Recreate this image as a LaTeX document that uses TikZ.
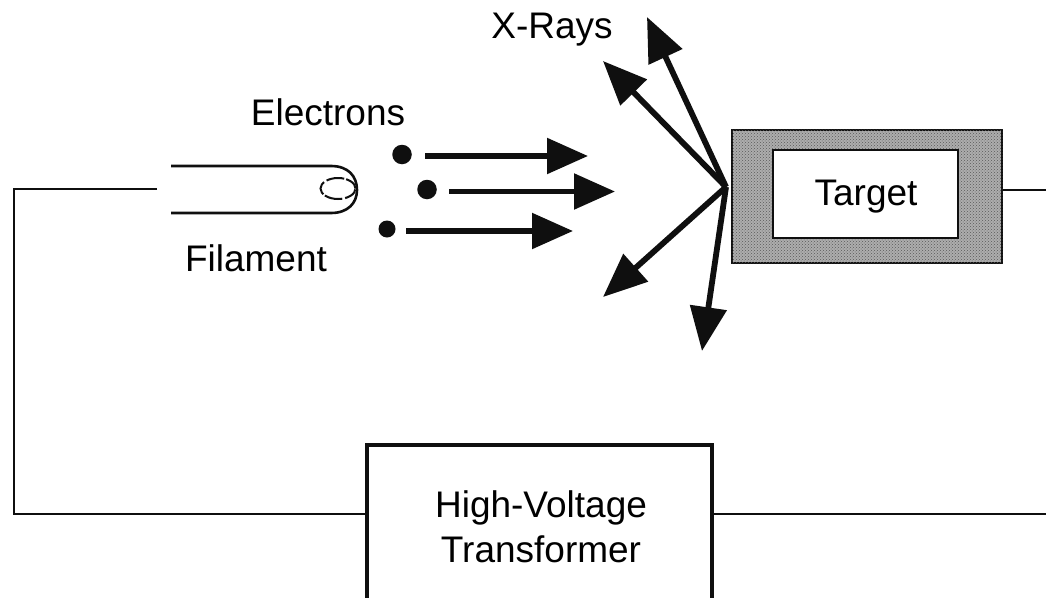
\documentclass[tikz,border=0pt]{standalone}
\usepackage{fontspec}
\setmainfont{Liberation Sans}
\usetikzlibrary{arrows.meta,patterns,calc,shapes.geometric}
\definecolor{ink}{gray}{0.06}
\tikzset{
  lbl/.style={font=\fontsize{37}{45}\selectfont, text=black, inner sep=0pt, align=center},
  wire/.style={draw=ink, line width=2.2pt},
  tube/.style={draw=ink, line width=2.6pt},
  electron/.style={circle, fill=ink, inner sep=0pt},
  beam/.style={draw=ink, line width=5.4pt, -{Triangle[length=41pt,width=35pt]}},
  ray/.style={draw=ink, line width=5.8pt, -{Triangle[length=44pt,width=36pt]}},
}
\begin{document}
\begin{tikzpicture}[x=1pt,y=-1pt]
\useasboundingbox (0,0) rectangle (1046,597);
\clip (0,0) rectangle (1046,597);
\fill[white] (0,0) rectangle (1046,597);
% target
\node[minimum width=270pt, minimum height=133pt, inner sep=0pt, draw=ink, line width=1.5pt, fill=black!32] (targetouter) at (867,196.5) {};
\fill[pattern=crosshatch dots, pattern color=black!65] (targetouter.south west) rectangle (targetouter.north east);
\node[minimum width=185pt, minimum height=88pt, inner sep=0pt, draw=ink, line width=1.8pt, fill=white] (targetinner) at (865.5,194) {};
\node[lbl] (target) at (866,197) {Target};
% transformer
\node[minimum width=345pt, minimum height=155pt, inner sep=0pt, draw=ink, line width=4.5pt, fill=white] (xfmr) at (539.5,522.5) {};
\node[lbl] (xfmrlabel) at (541,527) {High-Voltage\\Transformer};
% filament
\coordinate (tubeTL) at (171,166);
\coordinate (tubeBL) at (171,213);
\draw[tube] (tubeTL) -- (331,166) .. controls (348,166) and (357,176) .. (357,190) .. controls (357,203) and (348,213) .. (331,213) -- (tubeBL);
\node[draw=ink, ellipse, minimum width=35pt, minimum height=21pt, inner sep=0pt, line width=2pt, dash pattern=on 14pt off 2pt on 18pt off 3pt] (coil) at (338,188.5) {};
\coordinate (wireL) at (157,189);
\coordinate (cornerT) at (14,189);
\coordinate (wireR) at (1046,190);
\coordinate (wireB) at (1046,514);
\draw[wire] (wireL) -- (cornerT) |- (xfmr.west |- 0,514);
\draw[wire] (xfmr.east |- 0,514) -- (wireB);
\draw[wire] (targetouter.east |- wireR) -- (wireR);
% electrons
\node[electron, minimum size=19.5pt] (e1) at (402,154.5) {};
\node[electron, minimum size=19.5pt] (e2) at (427,189.5) {};
\node[electron, minimum size=17pt] (e3) at (387,229) {};
\coordinate (s1) at (425,156); \coordinate (t1) at (588,156);
\coordinate (s2) at (449,191.5); \coordinate (t2) at (615,191.5);
\coordinate (s3) at (406,231); \coordinate (t3) at (573,231);
\draw[beam] (s1) -- (t1);
\draw[beam] (s2) -- (t2);
\draw[beam] (s3) -- (t3);
% rays
\coordinate (hit) at (726,187);
\coordinate (r1) at (647,17);
\coordinate (r2) at (603,61);
\coordinate (r3) at (603,297);
\coordinate (r4) at (702,351);
\draw[ray] (hit) -- (r1);
\draw[ray] (hit) -- (r2);
\draw[ray] (hit) -- (r3);
\draw[ray] (hit) -- (r4);
% labels
\node[lbl] (xrays) at (552,30) {X-Rays};
\node[lbl] (electrons) at (328,112) {Electrons};
\node[lbl] (filament) at (256,258) {Filament};
\end{tikzpicture}
\end{document}
